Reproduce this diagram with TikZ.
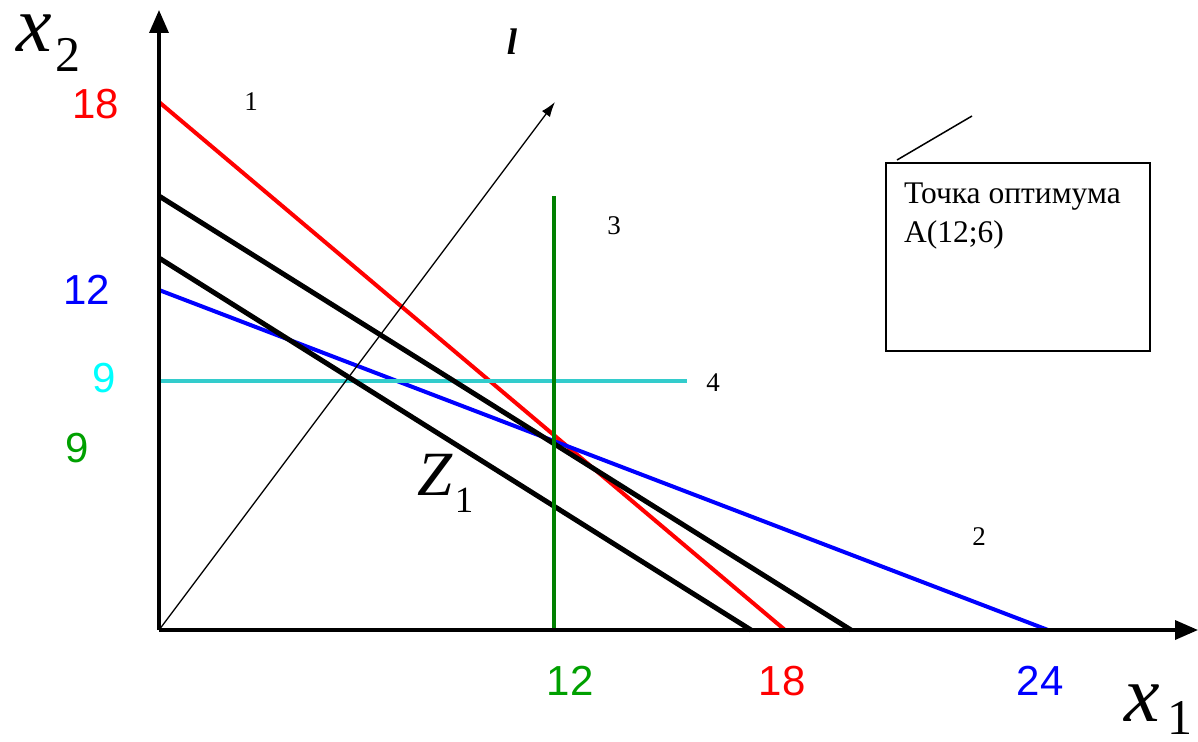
\documentclass[tikz,border=0pt]{standalone}
\usepackage{fontspec}
\setmainfont{Liberation Serif}
\newfontfamily\arialf{Liberation Sans}
\usetikzlibrary{arrows.meta}
\definecolor{cyanline}{RGB}{51,204,204}
\definecolor{cyanlab}{RGB}{0,255,255}
\definecolor{greenline}{RGB}{0,128,0}
\definecolor{greenlab}{RGB}{0,160,0}
\definecolor{redc}{RGB}{255,0,0}
\definecolor{bluec}{RGB}{0,0,255}
\tikzset{
  axis/.style={line width=3.5pt,-{Triangle[length=23pt,width=19pt]}},
  cline/.style={line width=4pt},
  kline/.style={line width=5pt},
  numlab/.style={font=\arialf\fontsize{42}{42}\selectfont,inner sep=0pt},
  smalllab/.style={font=\fontsize{27}{27}\selectfont,inner sep=0pt},
  boxtext/.style={anchor=base west,inner sep=0pt,font=\fontsize{31.5}{38}\selectfont}
}
\begin{document}
\begin{tikzpicture}[x=1pt,y=-1pt]
\useasboundingbox (0,0) rectangle (1198,741);
% coordinates
\coordinate (O) at (159,630);
\coordinate (Ytop) at (159,10);
\coordinate (Xend) at (1198,630);
\coordinate (r1) at (159,102);   \coordinate (r2) at (785,630);
\coordinate (a1) at (159,196);   \coordinate (a2) at (851,630);
\coordinate (b1) at (159,258);   \coordinate (b2) at (751,630);
\coordinate (u1) at (159,290);   \coordinate (u2) at (1048,630);
\coordinate (c1) at (159,381);   \coordinate (c2) at (687,381);
\coordinate (g1) at (554,196);   \coordinate (g2) at (554,630);
\coordinate (lt) at (555,102);
% constraint lines
\draw[cline,redc] (r1) -- (r2);
\draw[cline,bluec] (u1) -- (u2);
\draw[cline,cyanline] (c1) -- (c2);
\draw[kline,black] (a1) -- (a2);
\draw[kline,black] (b1) -- (b2);
\draw[cline,greenline] (g1) -- (g2);
% gradient arrow
\draw[line width=1.3pt,-{Latex[length=15pt,width=10pt]}] (O) -- (lt);
% axes
\draw[axis] (O) -- (Ytop);
\draw[axis] (O) -- (Xend);
% axis labels
\node[inner sep=0pt] (x2) at (34,33) {\fontsize{80}{80}\selectfont\itshape x};
\node[inner sep=0pt] (x2s) at (68,55) {\fontsize{50}{50}\selectfont 2};
\node[inner sep=0pt] (x1) at (1142,703) {\fontsize{80}{80}\selectfont\itshape x};
\node[inner sep=0pt] (x1s) at (1180,718) {\fontsize{50}{50}\selectfont 1};
% y numbers
\node[numlab,text=redc] (y18) at (96,104) {18};
\node[numlab,text=bluec] (y12) at (87,290) {12};
\node[numlab,text=cyanlab] (y9c) at (104,378) {9};
\node[numlab,text=greenlab] (y9g) at (77,448) {9};
% x numbers
\node[numlab,text=greenlab] (xx12) at (570,681) {12};
\node[numlab,text=redc] (xx18) at (782,681) {18};
\node[numlab,text=bluec] (xx24) at (1040,681) {24};
% line numbers
\node[smalllab] (n1) at (251,102) {1};
\node[smalllab] (n3) at (614,226) {3};
\node[smalllab] (n4) at (713,383) {4};
\node[smalllab] (n2) at (979,537) {2};
\node[inner sep=0pt] (lab) at (512,42) {\fontsize{37}{37}\selectfont\bfseries\itshape l};
% Z1
\node[inner sep=0pt] (Z) at (435,475) {\fontsize{63}{63}\selectfont\itshape Z};
\node[inner sep=0pt] (Zs) at (464,500) {\fontsize{37}{37}\selectfont 1};
% callout
\node[draw,line width=1.6pt,minimum width=264pt,minimum height=188pt,inner sep=0pt] (box) at (1018,257) {};
\node[boxtext] (boxt1) at (904,203) {Точка оптимума};
\node[boxtext] (boxt2) at (904,242) {A(12;6)};
\coordinate (ct) at (972,116);
\coordinate (cb) at (897,160);
\draw[line width=1.5pt] (cb) -- (ct);
\end{tikzpicture}
\end{document}
